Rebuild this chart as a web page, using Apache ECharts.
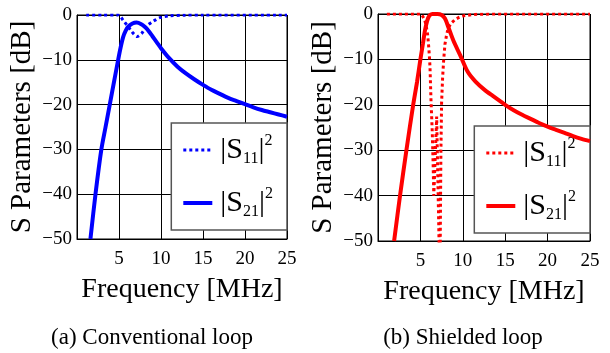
<!DOCTYPE html>
<html>
<head>
<meta charset="utf-8">
<script src="https://cdn.jsdelivr.net/npm/echarts@6/dist/echarts.min.js"></script>
<style>
  html, body { margin: 0; padding: 0; background: #fff; }
  #chart { width: 610px; height: 353px; }
</style>
</head>
<body>
<div id="chart"></div>
<script>
// frequency ticks (MHz) and dB ticks
const freqTicks = [0, 5, 10, 15, 20, 25]
const dbTicks = [-50, -40, -30, -20, -10, 0]

// (a) conventional loop, [MHz, dB]
const convS11 = [
  [1.1, 0], [3, 0], [4.9, 0], [5.2, -0.4], [5.5, -1.2], [5.8, -1.9], [6.1, -2.6],
  [6.4, -3.4], [6.7, -4.1], [7.15, -4.8], [7.7, -4.1], [8.1, -3], [8.45, -2.2],
  [8.9, -1.6], [9.25, -1.2], [9.85, -0.6], [11, -0.2], [12.7, -0.05], [15, 0], [25, 0],
]
const convS21 = [
  [1.6, -50], [2.2, -40], [2.9, -30], [3.4, -25], [3.9, -20], [4.4, -15], [4.9, -10],
  [5.2, -7.2], [5.5, -4.9], [5.8, -3.5], [6.1, -2.6], [6.6, -1.9], [7.1, -1.7],
  [7.6, -2], [8.1, -2.7], [8.5, -3.5], [9, -4.8], [9.5, -6.1], [10, -7.4], [11, -9.7],
  [12, -11.6], [13, -13.1], [14, -14.4], [15, -15.6], [16, -16.7], [17, -17.6],
  [18, -18.5], [19, -19.2], [20, -19.9], [21, -20.6], [22, -21.2], [23, -21.7],
  [24, -22.2], [25, -22.7],
]

// (b) shielded loop, [MHz, dB]
const shieldS11 = [
  [1.05, 0], [3, 0], [5.1, 0], [5.3, -0.3], [5.5, -1.2], [5.7, -2.8], [5.85, -4.5],
  [5.95, -6.5], [6.05, -9], [6.13, -11.6], [6.25, -19], [6.4, -26], [6.5, -33],
  [6.58, -40], [6.92, -22.6], [7.3, -60], [7.42, -30], [7.5, -19.5], [7.62, -14],
  [7.75, -10], [7.9, -6.6], [8.1, -4.5], [8.3, -3], [8.7, -1.9], [9.1, -1.2],
  [9.6, -0.7], [10.1, -0.4], [11, -0.15], [12, -0.05], [14, 0], [25, 0],
]
const shieldS21 = [
  [1.9, -50], [2.6, -40], [3.35, -30], [4.15, -20], [4.6, -15], [5.0, -10],
  [5.3, -6.5], [5.55, -3.5], [5.8, -1.5], [6.05, -0.4], [6.4, 0], [7.0, 0],
  [7.5, -0.2], [7.9, -1], [8.3, -2.9], [8.9, -5.9], [9.7, -9.1], [10.6, -12.8],
  [11.5, -14.9], [12.5, -16.6], [13.5, -18], [15, -20], [16, -21.2], [17, -22.2],
  [18, -23.1], [19, -24], [20, -24.8], [21, -25.5], [22, -26.2], [23, -26.9],
  [24, -27.5], [25, -28],
]

const captions = ['(a) Conventional loop', '(b) Shielded loop']

const FONT = "'Liberation Serif', 'Times New Roman', serif"
const BLUE = '#0000ff'
const RED = '#ff0000'

const DOTTED = { width: 3, type: [3, 3], cap: 'butt' }
const SOLID = { width: 4, type: 'solid' }

const chart = echarts.init(document.getElementById('chart'), null, { renderer: 'canvas' })

const xAxisOf = (gridIndex) => ({
  type: 'value',
  gridIndex,
  min: freqTicks[0],
  max: freqTicks[freqTicks.length - 1],
  interval: freqTicks[1] - freqTicks[0],
  name: 'Frequency [MHz]',
  nameLocation: 'middle',
  nameGap: 37,
  nameTextStyle: { fontFamily: FONT, fontSize: 28, color: '#000' },
  axisLine: { show: true, onZero: false, lineStyle: { color: '#000', width: 1 } },
  axisTick: { show: false },
  axisLabel: { showMinLabel: false, margin: 11, fontFamily: FONT, fontSize: 19, color: '#000' },
  splitLine: { show: true, lineStyle: { color: '#000', width: 1 } },
})

const yAxisOf = (gridIndex) => ({
  type: 'value',
  gridIndex,
  min: dbTicks[0],
  max: dbTicks[dbTicks.length - 1],
  interval: dbTicks[1] - dbTicks[0],
  name: 'S Parameters [dB]',
  nameLocation: 'middle',
  nameGap: 40,
  nameTextStyle: { fontFamily: FONT, fontSize: 29, color: '#000' },
  axisLine: { show: true, onZero: false, lineStyle: { color: '#000', width: 1 } },
  axisTick: { show: false },
  axisLabel: {
    margin: 5, fontFamily: FONT, fontSize: 19, color: '#000',
    formatter: (v) => String(v).replace('-', '\u2212'),
  },
  splitLine: { show: true, lineStyle: { color: '#000', width: 1 } },
})

const legendRich = {
  t: { fontFamily: FONT, fontSize: 30, color: '#000', lineHeight: 34 },
  sub: { fontFamily: FONT, fontSize: 16, color: '#000', lineHeight: 16, verticalAlign: 'bottom' },
  sup: { fontFamily: FONT, fontSize: 16, color: '#000', lineHeight: 24, verticalAlign: 'top' },
}

const legendOf = (names, color, right, top) => ({
  orient: 'vertical',
  right,
  top,
  z: 1,
  padding: [10, 14, 10, 10],
  itemGap: 19,
  itemWidth: 29,
  itemHeight: 30,
  backgroundColor: '#fff',
  borderColor: '#555',
  borderWidth: 1.5,
  borderRadius: 0,
  selectedMode: false,
  itemStyle: { opacity: 0 },
  data: [
    { name: names[0], lineStyle: { color, ...DOTTED } },
    { name: names[1], lineStyle: { color, ...SOLID } },
  ],
  formatter: (name) => `{t||S}{sub|${name.slice(1)}}{t||}{sup|2}`,
  textStyle: { rich: legendRich, padding: [0, 0, 0, 3] },
})

const lineSeries = (name, idx, data, color, dotted) => ({
  name,
  type: 'line',
  xAxisIndex: idx,
  yAxisIndex: idx,
  data,
  symbol: 'none',
  smooth: dotted && idx === 1 ? false : 0.3,
  clip: true,
  z: 3,
  lineStyle: { color, ...(dotted ? DOTTED : SOLID) },
  itemStyle: { color },
})

chart.setOption({
  animation: false,
  textStyle: { fontFamily: FONT },
  grid: [
    { left: 77, top: 15, width: 210, height: 224, show: true, borderColor: '#000', borderWidth: 1 },
    { left: 378, top: 14, width: 212, height: 227, show: true, borderColor: '#000', borderWidth: 1 },
  ],
  xAxis: [xAxisOf(0), xAxisOf(1)],
  yAxis: [yAxisOf(0), yAxisOf(1)],
  legend: [
    legendOf(['a11', 'a21'], BLUE, 323, 123),
    legendOf(['b11', 'b21'], RED, 20, 126),
  ],
  series: [
    lineSeries('a11', 0, convS11, BLUE, true),
    lineSeries('a21', 0, convS21, BLUE, false),
    lineSeries('b11', 1, shieldS11, RED, true),
    lineSeries('b21', 1, shieldS21, RED, false),
  ],
  graphic: [
    { type: 'text', silent: true,
      style: { text: captions[0], x: 152, y: 338, fontFamily: FONT, fontSize: 23, fill: '#000', align: 'center', verticalAlign: 'middle' } },
    { type: 'text', silent: true,
      style: { text: captions[1], x: 463, y: 338, fontFamily: FONT, fontSize: 23, fill: '#000', align: 'center', verticalAlign: 'middle' } },
  ],
})
</script>
</body>
</html>
